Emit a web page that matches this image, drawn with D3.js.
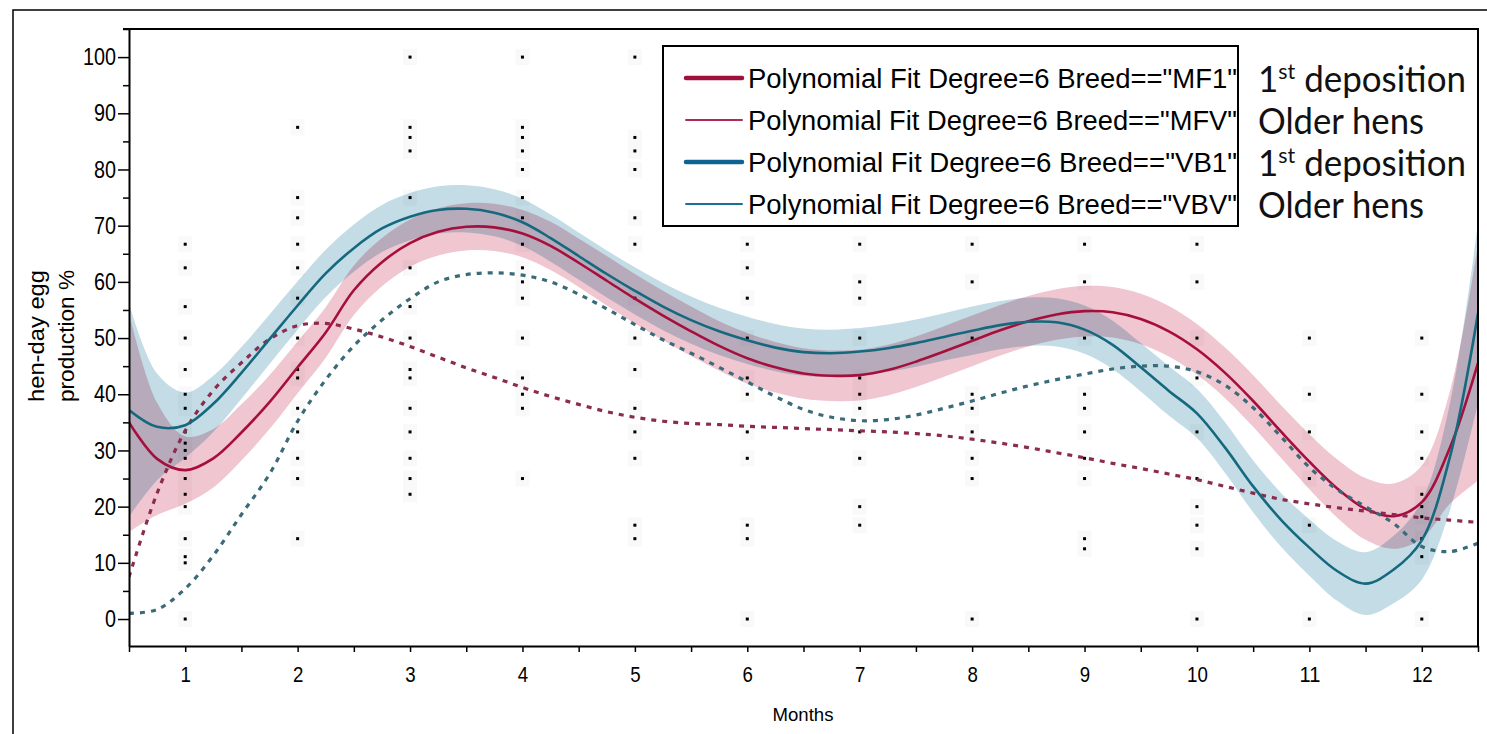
<!DOCTYPE html>
<html>
<head>
<meta charset="utf-8">
<script src="https://cdn.jsdelivr.net/npm/d3@7/dist/d3.min.js"></script>
<style>
    html, body { margin: 0; padding: 0; background: #ffffff; }
    svg { display: block; }
</style>
</head>
<body>
<div id="chart"></div>
<script>
// месяцы, в которых сняты значения кривых подгонки
var fitMonths = [0.5, 0.75, 1, 1.25, 1.5, 1.75, 2, 2.25, 2.5, 2.75, 3, 3.25, 3.5, 3.75, 4, 4.25, 4.5, 4.75,
    5, 5.25, 5.5, 5.75, 6, 6.25, 6.5, 6.75, 7, 7.25, 7.5, 7.75, 8, 8.25, 8.5, 8.75, 9, 9.25, 9.5, 9.75,
    10, 10.25, 10.5, 10.75, 11, 11.25, 11.5, 11.75, 12, 12.25, 12.5];

// MF1 - сплошная малиновая кривая и полуширина доверительной полосы
var fitMF1 = [35, 28.5, 26.5, 28.6, 33.2, 38.6, 44.8, 51, 58.5, 63.5, 66.9, 68.9, 69.8, 69.7, 68.6, 66.4, 63.4, 60.2,
    57, 54, 51.2, 48.6, 46.4, 44.8, 43.7, 43.3, 43.4, 44.3, 45.8, 47.6, 49.5, 51.4, 53, 54.2, 54.8, 54.6, 53.4, 51.2,
    48, 43.8, 38.8, 33.3, 28, 23.2, 19.6, 18.3, 20.8, 30.5, 45.6];
var ciMF1 = [19.5, 10, 6, 5.2, 5, 4.8, 4.6, 4.5, 4.4, 4.3, 4.2, 4.2, 4.2, 4.2, 4.2, 4.3, 4.3, 4.4,
    4.4, 4.4, 4.4, 4.4, 4.5, 4.5, 4.5, 4.5, 4.5, 4.5, 4.5, 4.5, 4.5, 4.5, 4.5, 4.5, 4.5, 4.5, 4.5, 4.5,
    4.5, 4.5, 4.6, 4.7, 4.9, 5.2, 5.5, 5.8, 6.5, 10, 21];

// VB1 - сплошная бирюзовая кривая и её полоса
var fitVB1 = [37.2, 34.2, 34.5, 38.3, 43.8, 49.8, 55.8, 61.5, 66, 69.5, 71.6, 72.8, 73, 72.3, 70.6, 67.8, 64.6, 61.4,
    58.4, 55.6, 53.2, 51.2, 49.6, 48.3, 47.5, 47.3, 47.6, 48.2, 49.1, 50.2, 51.3, 52.3, 52.9, 52.8, 51.5, 48.8, 44.8, 40.6,
    36.6, 30.5, 23.6, 17.6, 12.7, 8.5, 6.3, 8.8, 14, 28.8, 54.4];
var ciVB1 = [19, 9.5, 5.8, 5, 4.6, 4.4, 4.3, 4.2, 4.2, 4.2, 4.2, 4.2, 4.2, 4.2, 4.2, 4.2, 4.2, 4.2,
    4.2, 4.2, 4.2, 4.2, 4.2, 4.2, 4.2, 4.2, 4.2, 4.2, 4.2, 4.2, 4.3, 4.3, 4.3, 4.3, 4.3, 4.3, 4.3, 4.4,
    4.4, 4.5, 4.6, 4.8, 5, 5.3, 5.6, 6, 7, 9.5, 16];

// MFV и VBV - пунктирные кривые старших кур
var fitMFV = [7.5, 22.4, 33.5, 40.7, 45.6, 49.8, 52.2, 52.6, 51.6, 50.2, 48.5, 46.6, 44.7, 43, 41.2, 39.6, 38.2, 36.9,
    35.9, 35.2, 34.8, 34.6, 34.3, 34.1, 33.9, 33.7, 33.5, 33.3, 33, 32.6, 32, 31.3, 30.5, 29.6, 28.7, 27.7, 26.8, 25.8,
    24.8, 23.6, 22.4, 21.3, 20.5, 19.8, 19.2, 18.6, 18, 17.6, 17.2];
var fitVBV = [1, 1.7, 5.4, 11.3, 18.6, 25.8, 35.2, 42.6, 48.6, 53.2, 57, 60, 61.3, 61.6, 61.2, 60, 57.8, 55.2,
    52.4, 49.7, 47.3, 44.8, 42.2, 39.6, 37.3, 35.9, 35.3, 35.5, 36.3, 37.5, 38.8, 40.2, 41.5, 42.6, 43.6, 44.5, 45, 45,
    44, 41.6, 37.6, 32.4, 27, 23, 20, 17, 12.9, 12, 13.5];

// наблюдения по месяцам (чёрные точки)
var obsMonths = [1, 2, 3, 4, 5, 6, 7, 8, 9, 10, 11, 12];
var obsValues = [
    [66.7, 62.5, 55.6, 50, 44.4, 40, 37.5, 33.3, 31.3, 30, 28.6, 25, 22.2, 20, 14.3, 11.1, 10, 0],
    [87.5, 75, 71.4, 66.7, 62.5, 57.1, 50, 44.4, 42.9, 37.5, 33.3, 28.6, 25, 14.3],
    [100, 87.5, 85.7, 83.3, 75, 62.5, 55.6, 50, 44.4, 42.9, 37.5, 33.3, 28.6, 25, 22.2],
    [100, 87.5, 85.7, 83.3, 80, 75, 71.4, 66.7, 62.5, 60, 57.1, 50, 42.9, 40, 37.5, 25],
    [100, 85.7, 83.3, 80, 71.4, 66.7, 57.1, 50, 44.4, 37.5, 33.3, 28.6, 16.7, 14.3],
    [66.7, 62.5, 57.1, 50, 42.9, 40, 33.3, 28.6, 16.7, 14.3, 0],
    [66.7, 60, 57.1, 50, 42.9, 40, 37.5, 33.3, 28.6, 20, 16.7],
    [66.7, 60, 50, 40, 37.5, 33.3, 28.6, 25, 0],
    [66.7, 60, 50, 40, 37.5, 33.3, 28.6, 25, 14.3, 12.5],
    [66.7, 60, 50, 42.9, 33.3, 25, 20, 16.7, 12.5, 0],
    [50, 40, 33.3, 25, 16.7, 0],
    [50, 40, 33.3, 28.6, 22.2, 20, 18.2, 14.3, 11.1, 0]
];

var xTicks = [1, 2, 3, 4, 5, 6, 7, 8, 9, 10, 11, 12];
var xMinorTicks = [0.5, 1.5, 2.5, 3.5, 4.5, 5.5, 6.5, 7.5, 8.5, 9.5, 10.5, 11.5, 12.5];
var yTicks = [0, 10, 20, 30, 40, 50, 60, 70, 80, 90, 100];
var yMinorTicks = [5, 15, 25, 35, 45, 55, 65, 75, 85, 95, 105];

var legendLabels = ['Polynomial Fit Degree=6 Breed=="MF1"', 'Polynomial Fit Degree=6 Breed=="MFV"',
    'Polynomial Fit Degree=6 Breed=="VB1"', 'Polynomial Fit Degree=6 Breed=="VBV"'];
var noteLabels = ["1st deposition", "Older hens", "1st deposition", "Older hens"];

var yTitle = ["hen-day egg", "production %"];
var xTitle = "Months";

var chart = (function () {
    var width = 1487,
        height = 734,
        plot = {left: 129, right: 1478, top: 29, bottom: 646},
        svg, x, y, i;

    // сжатие/растяжение текста под нужную ширину
    function fitText(sel, len) {
        return sel.attr("textLength", len).attr("lengthAdjust", "spacingAndGlyphs");
    }

    function rows(values) {
        return fitMonths.map(function (m, k) {
            return {m: m, v: values[k]};
        });
    }

    svg = d3.select("#chart")
        .append("svg")
        .attr("width", width)
        .attr("height", height)
        .style("font-family", "'Liberation Sans', Arial, sans-serif");

    x = d3.scaleLinear().domain([0.5, 12.5]).range([plot.left, plot.right]);
    y = d3.scaleLinear().domain([-4.8, 105]).range([plot.bottom, plot.top]);

    // внешняя рамка рисунка
    svg.append("rect")
        .attr("x", 13).attr("y", 10)
        .attr("width", 1500).attr("height", 800)
        .attr("fill", "none").attr("stroke", "#000").attr("stroke-width", 1.5);

    svg.append("clipPath").attr("id", "plotClip")
        .append("rect")
        .attr("x", plot.left).attr("y", plot.top)
        .attr("width", plot.right - plot.left).attr("height", plot.bottom - plot.top);

    var body = svg.append("g").attr("clip-path", "url(#plotClip)");

    // бледные ореолы вокруг точек
    var points = [];
    obsMonths.forEach(function (m, k) {
        obsValues[k].forEach(function (v) {
            points.push({m: m, v: v});
        });
    });
    body.append("g").selectAll("rect").data(points).enter().append("rect")
        .attr("x", function (d) { return x(d.m) - 7; })
        .attr("y", function (d) { return y(d.v) - 8; })
        .attr("width", 14).attr("height", 16)
        .attr("fill", "#f9f9f9");

    var area = d3.area()
        .curve(d3.curveCatmullRom)
        .x(function (d) { return x(d.m); })
        .y0(function (d) { return y(d.v - d.ci); })
        .y1(function (d) { return y(d.v + d.ci); });

    var line = d3.line()
        .curve(d3.curveCatmullRom)
        .x(function (d) { return x(d.m); })
        .y(function (d) { return y(d.v); });

    function band(values, ci, color) {
        var data = fitMonths.map(function (m, k) {
            return {m: m, v: values[k], ci: ci[k]};
        });
        body.append("path").datum(data)
            .attr("d", area)
            .attr("fill", color)
            .style("mix-blend-mode", "multiply");
    }

    band(fitMF1, ciMF1, "#f0c6d0");
    band(fitVB1, ciVB1, "#c3dce6");

    body.append("g").selectAll("rect.dot").data(points).enter().append("rect")
        .attr("class", "dot")
        .attr("x", function (d) { return x(d.m) - 1.5; })
        .attr("y", function (d) { return y(d.v) - 1.5; })
        .attr("width", 3).attr("height", 3)
        .attr("fill", "#000");

    var series = [
        {values: fitMF1, color: "#a60f3d", width: 2.6, dash: null},
        {values: fitMFV, color: "#8c2b50", width: 3.2, dash: "5,6"},
        {values: fitVB1, color: "#15697f", width: 2.6, dash: null},
        {values: fitVBV, color: "#3a6b79", width: 3.2, dash: "5,6"}
    ];

    series.forEach(function (s) {
        body.append("path").datum(rows(s.values))
            .attr("d", line)
            .attr("fill", "none")
            .attr("stroke", s.color)
            .attr("stroke-width", s.width)
            .attr("stroke-dasharray", s.dash);
    });

    // оси
    var yAxis = svg.append("g")
        .attr("transform", "translate(" + plot.left + ",0)")
        .call(d3.axisLeft(y).tickValues(yTicks).tickSize(11).tickPadding(2).tickSizeOuter(0));
    yAxis.select(".domain").attr("stroke-width", 2);
    yAxis.selectAll(".tick line").attr("stroke-width", 1.5);
    yAxis.selectAll(".tick text")
        .attr("font-size", 24)
        .attr("fill", "#000")
        .each(function (d) {
            fitText(d3.select(this), String(d).length * 11);
        });

    svg.append("g")
        .attr("transform", "translate(" + plot.left + ",0)")
        .call(d3.axisLeft(y).tickValues(yMinorTicks).tickSize(6).tickFormat(""))
        .call(function (g) { g.select(".domain").remove(); })
        .selectAll(".tick line").attr("stroke-width", 1.5);

    var xAxis = svg.append("g")
        .attr("transform", "translate(0," + plot.bottom + ")")
        .call(d3.axisBottom(x).tickValues(xTicks).tickSize(6).tickPadding(4).tickSizeOuter(0));
    xAxis.select(".domain").attr("stroke-width", 2);
    xAxis.selectAll(".tick line").attr("stroke-width", 1.5);
    xAxis.selectAll(".tick text")
        .attr("font-size", 22)
        .attr("fill", "#000")
        .attr("dy", null)
        .attr("y", 36)
        .each(function (d) {
            fitText(d3.select(this), String(d).length * 10.4);
        });

    svg.append("g")
        .attr("transform", "translate(0," + plot.bottom + ")")
        .call(d3.axisBottom(x).tickValues(xMinorTicks).tickSize(6).tickFormat(""))
        .call(function (g) { g.select(".domain").remove(); })
        .selectAll(".tick line").attr("stroke-width", 1.5);

    // верхняя и правая стороны рамки графика
    svg.append("path")
        .attr("d", "M" + (plot.left - 6) + "," + plot.top + "H" + plot.right + "V" + plot.bottom)
        .attr("fill", "none").attr("stroke", "#000").attr("stroke-width", 2);

    // подписи осей
    var yTitlePos = [44, 74];
    for (i = 0; i < yTitle.length; i += 1) {
        fitText(svg.append("text")
            .attr("transform", "translate(" + yTitlePos[i] + ",336) rotate(-90)")
            .attr("text-anchor", "middle")
            .attr("font-size", 22)
            .text(yTitle[i]), 132);
    }

    fitText(svg.append("text")
        .attr("x", 803).attr("y", 721)
        .attr("text-anchor", "middle")
        .attr("font-size", 19)
        .text(xTitle), 61);

    // легенда
    var legend = svg.append("g");
    legend.append("rect")
        .attr("x", 663).attr("y", 46)
        .attr("width", 575).attr("height", 180)
        .attr("fill", "#fff").attr("stroke", "#000").attr("stroke-width", 2);

    var legendStyle = [
        {color: "#a0103c", width: 4.5},
        {color: "#b02a58", width: 2},
        {color: "#0f6390", width: 4.5},
        {color: "#1d6f95", width: 2}
    ];
    legendLabels.forEach(function (label, k) {
        var rowY = 78 + k * 42;
        legend.append("line")
            .attr("x1", 686).attr("x2", 742)
            .attr("y1", rowY).attr("y2", rowY)
            .attr("stroke", legendStyle[k].color)
            .attr("stroke-width", legendStyle[k].width)
            .attr("stroke-linecap", "round");
        fitText(legend.append("text")
            .attr("x", 748).attr("y", rowY + 10)
            .attr("font-size", 27)
            .text(label), 489);
    });

    // пояснения справа (в оригинале шрифт типа Calibri)
    noteLabels.forEach(function (label, k) {
        var t = svg.append("text")
            .attr("x", 1258).attr("y", 92 + k * 42)
            .attr("font-family", "Lato, 'Open Sans', sans-serif")
            .attr("font-size", 36)
            .attr("fill", "#111");
        if (label.indexOf("1st") === 0) {
            t.append("tspan").text("1");
            t.append("tspan").attr("font-size", 22).attr("dy", -13).text("st");
            t.append("tspan").attr("dy", 13).text(label.substr(3));
            fitText(t, 208);
        } else {
            fitText(t.text(label), 166);
        }
    });

    return svg;
}());
</script>
</body>
</html>
